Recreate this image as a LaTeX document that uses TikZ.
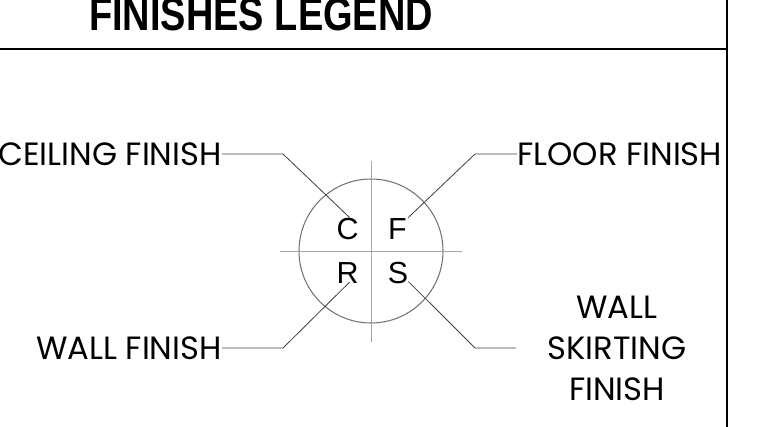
\documentclass[tikz,border=0pt]{standalone}
\usepackage{fontspec}
\setmainfont{Poppins}
\newfontfamily\lettfont{Liberation Sans}
\newfontfamily\titlefont{Liberation Sans}
\usetikzlibrary{positioning,calc}

\begin{document}
\begin{tikzpicture}[x=0.03cm,y=-0.03cm,
 frame/.style={line width=1.5pt,black},
 lead/.style={line width=0.7pt,black!75},
 lbl/.style={inner sep=0pt,font=\fontsize{27.5}{35}\selectfont},
 lett/.style={inner sep=0pt,font=\lettfont\fontsize{26}{30}\selectfont}]
\useasboundingbox (0,0) rectangle (764,427);
% title block
\node[inner sep=0pt,anchor=base west] (title) at (89,31)
 {\scalebox{0.81}[1]{\titlefont\bfseries\fontsize{40}{48}\selectfont FINISHES LEGEND}};
\coordinate (hl) at (0,49);
\coordinate (hr) at (727,49);
\coordinate (vt) at (727,0);
\coordinate (vb) at (727,427);
\draw[frame] (hl)--(hr);
\draw[frame] (vt)--(vb);
% symbol
\node[draw=black!55,line width=0.9pt,circle,inner sep=0pt,
 minimum size=4.32cm] (sym) at (371,251) {};
\coordinate (cl) at (280,251);
\coordinate (cr) at (462,251);
\coordinate (ct) at (371,161);
\coordinate (cb) at (371,342);
\draw[black!35,line width=0.8pt] (cl)--(cr);
\draw[black!35,line width=0.8pt] (ct)--(cb);
\node[lett] (lC) at (347.5,229.5) {C};
\node[lett] (lF) at (397.5,229.5) {F};
\node[lett] (lR) at (347.5,273.5) {R};
\node[lett] (lS) at (398,273.5) {S};
% labels
\node[lbl,anchor=east] (ceil) at (222,154) {CEILING FINISH};
\node[lbl,anchor=west] (floor) at (517,154) {FLOOR FINISH};
\node[lbl,anchor=east] (wall) at (222,348) {WALL FINISH};
\node[lbl,align=center] (skirt) at (617,348) {WALL\\SKIRTING\\FINISH};
% leaders
\coordinate (kC) at (283,154);
\coordinate (kF) at (475,154);
\coordinate (kR) at (283,348);
\coordinate (kS) at (475,348);
\coordinate (eS) at (516,348);
\draw[lead] (ceil.east)--(kC)--($(lC.north)+(2,-1)$);
\draw[lead] (floor.west)--(kF)--($(lF.north east)+(1,-1)$);
\draw[lead] (wall.east)--(kR)--($(lR.south)+(2,-2)$);
\draw[lead] (eS)--(kS)--($(lS.south east)+(0,-3)$);
\end{tikzpicture}
\end{document}
